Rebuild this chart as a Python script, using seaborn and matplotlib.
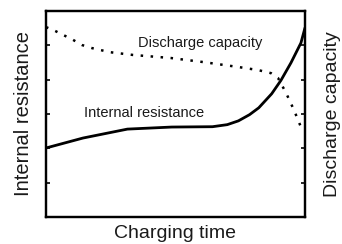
import numpy as np
import pandas as pd
import matplotlib
matplotlib.use("Agg")
import matplotlib.pyplot as plt
import seaborn as sns

sns.set_style("white")
plt.rcParams["font.family"] = ["Liberation Sans", "DejaVu Sans"]

# ========== Data (arbitrary units) ==========
res_time = [0.0, 1.0, 2.2, 3.4, 4.5, 4.9, 5.2, 5.5, 5.75, 6.1, 6.35, 6.62, 6.89, 7.0]
res_value = [2.01, 2.30, 2.56, 2.62, 2.63, 2.69, 2.80, 2.98, 3.18, 3.59, 3.98, 4.49, 5.07, 5.51]

cap_time = [0.0, 0.19, 0.47, 0.73, 0.97, 1.24, 1.73, 2.35, 3.38, 4.27, 5.19,
            5.73, 6.08, 6.27, 6.49, 6.70, 6.89, 6.95]
cap_value = [5.53, 5.45, 5.30, 5.16, 5.01, 4.92, 4.80, 4.72, 4.63, 4.51, 4.37,
             4.28, 4.19, 4.05, 3.61, 3.12, 2.62, 2.53]

df_res = pd.DataFrame({"time": res_time, "value": res_value})
df_cap = pd.DataFrame({"time": cap_time, "value": cap_value})

text_color = "#1a1a1a"

fig = plt.figure(figsize=(3.42, 2.44), dpi=100)
ax = fig.add_axes([46 / 342, 27 / 244, 259 / 342, 206 / 244])
ax2 = ax.twinx()

sns.lineplot(data=df_res, x="time", y="value", estimator=None, color="black",
             linewidth=2.0, ax=ax)
sns.lineplot(data=df_cap, x="time", y="value", estimator=None, color="black",
             linewidth=1.8, linestyle=(0, (1.0, 3.0)), ax=ax2)

for a in (ax, ax2):
    a.set_xlim(0, 7)
    a.set_ylim(0, 6)
    a.set_yticks([1, 2, 3, 4, 5])
    a.set_yticklabels([])
    for s in a.spines.values():
        s.set_visible(True)
        s.set_color("black")
        s.set_linewidth(1.6)
ax.set_xticks([1, 2, 3, 4, 5, 6])
ax.set_xticklabels([])
ax.tick_params(axis="both", direction="in", length=3, width=1.2, colors="black")
ax2.tick_params(axis="y", direction="in", length=3, width=1.2, colors="black")

ax.set_xlabel("Charging time", fontsize=14, color=text_color, labelpad=2)
ax.set_ylabel("Internal resistance", fontsize=14.5, color=text_color, labelpad=6)
ax2.set_ylabel("Discharge capacity", fontsize=14, color=text_color, labelpad=10)

ax.text(2.49, 5.07, "Discharge capacity", fontsize=10.5, color=text_color,
        ha="left", va="center")
ax.text(1.03, 3.03, "Internal resistance", fontsize=10.5, color=text_color,
        ha="left", va="center")

fig.savefig("out.png", dpi=100)
